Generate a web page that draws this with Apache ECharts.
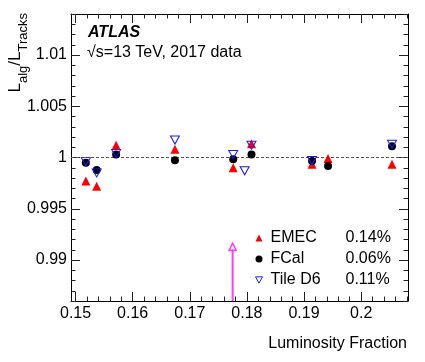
<!DOCTYPE html>
<html><head><meta charset="utf-8">
<script src="https://cdn.jsdelivr.net/npm/echarts@6/dist/echarts.min.js"></script>
<style>html,body{margin:0;padding:0;background:#fff}#c{width:425px;height:362px}</style>
</head><body><div id="c"></div>
<script>
// ---- data ----
const emecX = [0.1518, 0.1537, 0.1571, 0.1674, 0.1776, 0.1808, 0.1914, 0.1942, 0.2054];
const emecY = [0.9977, 0.9972, 1.0012, 1.0008, 0.9990, 1.00135, 0.99935, 0.9999, 0.99935];
const fcalX = [0.1518, 0.1537, 0.1571, 0.1674, 0.1776, 0.1808, 0.1914, 0.1942, 0.2054];
const fcalY = [0.9995, 0.99877, 1.0003, 0.99974, 0.99983, 1.0003, 0.99967, 0.99916, 1.0011];
const tileX = [0.1518, 0.1537, 0.1571, 0.1674, 0.1776, 0.1796, 0.1808, 0.1914, 0.2054];
const tileY = [0.9996, 0.9985, 1.0004, 1.0017, 1.0003, 0.9987, 1.0012, 0.9997, 1.0013];
const arrowX = [0.1775];
const arrowY = [0.9913];
const seriesNames = ['EMEC', 'FCal', 'Tile D6'];
const seriesPct = ['0.14%', '0.06%', '0.11%'];
const xMajor = [0.15, 0.16, 0.17, 0.18, 0.19, 0.20];
const yMajor = [0.99, 0.995, 1.0, 1.005, 1.01];
const xRange = [0.1492, 0.2082];
const yRange = [0.986, 1.014];
const refLine = 1.0;

const FONT = 'Liberation Sans, Arial, Helvetica, sans-serif';
const r6 = v => Math.round(v * 1e6) / 1e6;
function minorVals(lo, hi, step, majors) {
  const out = [];
  for (let v = Math.ceil(lo / step - 1e-9) * step; v <= hi + 1e-12; v += step) {
    const rv = r6(v);
    if (!majors.some(m => Math.abs(m - rv) < 1e-9)) out.push(rv);
  }
  return out;
}
const xMinor = minorVals(xRange[0], xRange[1], 0.002, xMajor);
const yMinor = minorVals(yRange[0], yRange[1], 0.001, yMajor);

function axis(kind, pos, vals, len, labels, line) {
  const rng = kind === 'x' ? xRange : yRange;
  return {
    type: 'value', position: pos, min: rng[0], max: rng[1], scale: true,
    splitLine: { show: false },
    axisLine: { show: line, onZero: false, lineStyle: { color: '#000', width: 1 } },
    axisTick: { show: true, inside: true, length: len, customValues: vals, lineStyle: { color: '#222', width: 1 } },
    axisLabel: labels ? {
      show: true, customValues: vals, margin: kind === 'x' ? 5 : 4,
      color: '#000', fontFamily: FONT, fontSize: 16,
      formatter: v => String(r6(v))
    } : { show: false }
  };
}

const zip = (a, b) => a.map((v, i) => [v, b[i]]);
const downTri = 'path://M0,0L10,0L5,9Z';

const chart = echarts.init(document.getElementById('c'), null, { renderer: 'canvas' });
chart.setOption({
  animation: false,
  backgroundColor: '#fff',
  grid: { left: 71, top: 14, right: 17, bottom: 61 },
  xAxis: [
    axis('x', 'bottom', xMajor, 9, true, true),
    axis('x', 'bottom', xMinor, 4.5, false, false),
    axis('x', 'top', xMajor, 9, false, true),
    axis('x', 'top', xMinor, 4.5, false, false)
  ],
  yAxis: [
    axis('y', 'left', yMajor, 9, true, true),
    axis('y', 'left', yMinor, 4.5, false, false),
    axis('y', 'right', yMajor, 9, false, true),
    axis('y', 'right', yMinor, 4.5, false, false)
  ],
  legend: {
    orient: 'vertical', left: 255, top: 230, padding: 0,
    itemWidth: 7, itemHeight: 7, itemGap: 5,
    data: [
      { name: seriesNames[0] },
      { name: seriesNames[1] },
      { name: seriesNames[2], icon: downTri, itemStyle: { color: 'rgba(0,0,0,0)', borderColor: '#1a1aff', borderWidth: 1 } }
    ],
    formatter: name => `{n|${name}}{p|${seriesPct[seriesNames.indexOf(name)]}}`,
    textStyle: {
      fontFamily: FONT, fontSize: 16, color: '#000',
      rich: { n: { width: 75, padding: [0, 0, 0, 3], fontFamily: FONT, fontSize: 16, lineHeight: 16 }, p: { fontFamily: FONT, fontSize: 16, lineHeight: 16 } }
    }
  },
  series: [
    {
      type: 'line', data: [[xRange[0], refLine], [xRange[1], refLine]], symbol: 'none',
      lineStyle: { color: '#555', width: 1, type: [3, 2] }, silent: true, z: 1
    },
    {
      name: seriesNames[0], type: 'scatter', data: zip(emecX, emecY), symbol: 'triangle', symbolSize: 9,
      itemStyle: { color: '#ff0000', opacity: 1 }, z: 3
    },
    {
      name: seriesNames[1], type: 'scatter', data: zip(fcalX, fcalY), symbol: 'circle', symbolSize: 8,
      itemStyle: { color: '#000', opacity: 1 }, z: 4
    },
    {
      name: seriesNames[2], type: 'scatter', data: zip(tileX, tileY), symbol: downTri, symbolSize: [9, 8],
      itemStyle: { color: 'rgba(0,0,0,0)', borderColor: '#1a1aff', borderWidth: 1, opacity: 1 }, z: 5
    },
    {
      type: 'line', data: [[arrowX[0], yRange[0]], [arrowX[0], arrowY[0] - 0.0003]], symbol: 'none',
      lineStyle: { color: '#ff3cff', width: 2 }, z: 3
    },
    {
      type: 'scatter', data: zip(arrowX, arrowY), symbol: 'triangle', symbolSize: [7, 7],
      itemStyle: { color: 'rgba(0,0,0,0)', borderColor: '#ff3cff', borderWidth: 1.5, opacity: 1 }, z: 4
    }
  ],
  graphic: [
    { type: 'text', x: 88, y: 33, style: { text: 'ATLAS', fontFamily: FONT, fontSize: 16, fontWeight: 'bold', fontStyle: 'italic', fill: '#000', verticalAlign: 'middle' } },
    { type: 'text', x: 87, y: 53, style: { text: '√s=13 TeV, 2017 data', fontFamily: FONT, fontSize: 16, fill: '#000', verticalAlign: 'middle' } },
    { type: 'text', x: 407, y: 344, style: { text: 'Luminosity Fraction', fontFamily: FONT, fontSize: 16, fill: '#000', align: 'right', verticalAlign: 'middle' } },
    {
      type: 'text', x: 18, y: 13, rotation: Math.PI / 2,
      style: {
        text: '{m|L}{s|alg}{m|/L}{s|Tracks}', align: 'right', verticalAlign: 'middle', fill: '#000',
        rich: {
          m: { fontFamily: FONT, fontSize: 17, lineHeight: 23, verticalAlign: 'top' },
          s: { fontFamily: FONT, fontSize: 13, lineHeight: 13, verticalAlign: 'bottom' }
        }
      }
    }
  ]
});
</script>
</body></html>
